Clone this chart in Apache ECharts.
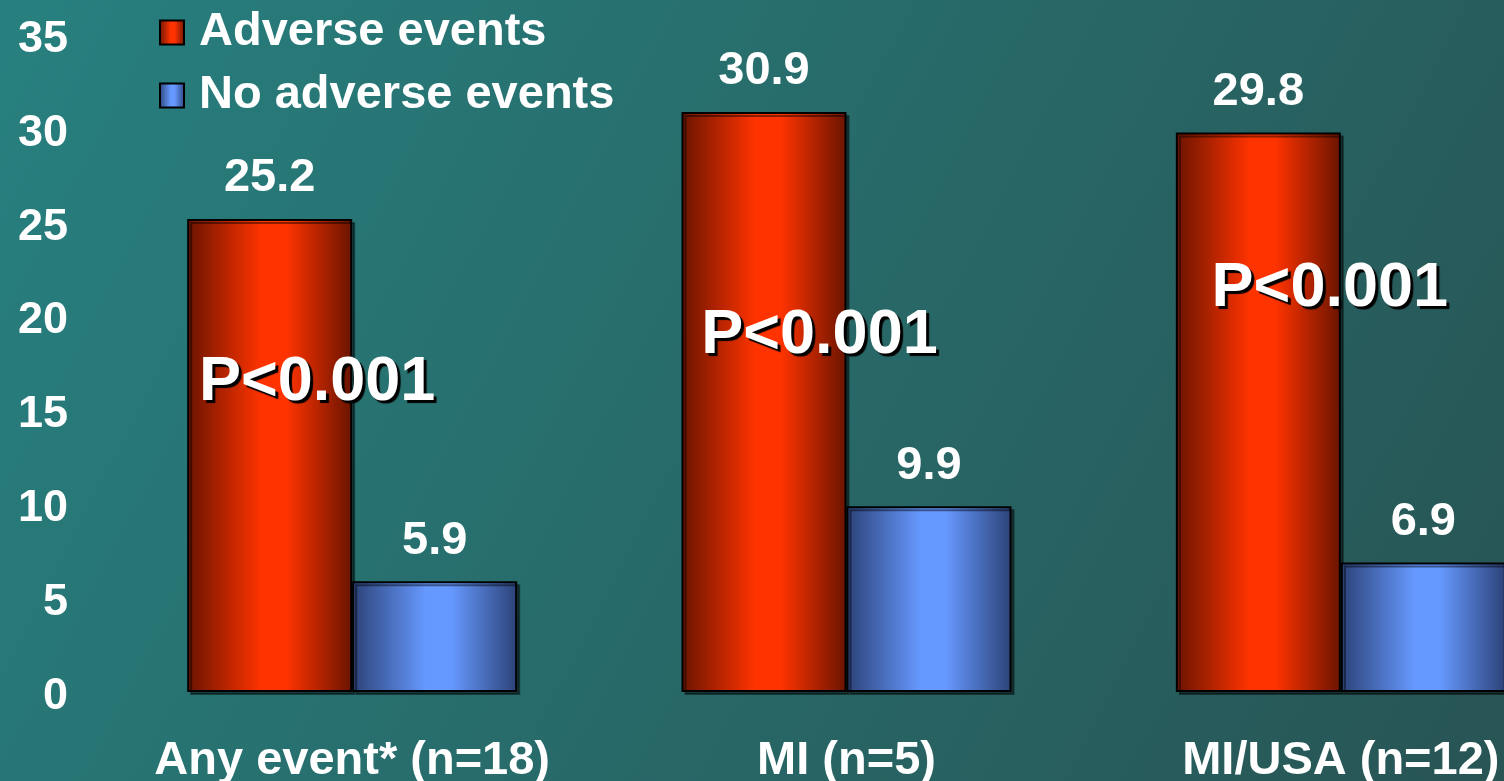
<!DOCTYPE html>
<html>
<head>
<meta charset="utf-8">
<script src="https://cdn.jsdelivr.net/npm/echarts@6/dist/echarts.min.js"></script>
<style>
  html, body { margin: 0; padding: 0; }
  #chart { width: 1504px; height: 781px; }
</style>
</head>
<body>
<div id="chart"></div>
<script>
// Categories and values
const categories = ['Any event* (n=18)', 'MI (n=5)', 'MI/USA (n=12)'];
const adverseEvents = [25.2, 30.9, 29.8];
const noAdverseEvents = [5.9, 9.9, 6.9];
const pValueText = ['P<0.001', 'P<0.001', 'P<0.001'];
// height (in axis units) where each P-value note sits
const pValueLevel = [16.5, 19.0, 21.5];
const yTicks = { min: 0, max: 35, interval: 5 };

const FONT = '"Liberation Sans", Arial, sans-serif';

function barGradient(edge, mid) {
  return new echarts.graphic.LinearGradient(0, 0, 1, 0, [
    { offset: 0, color: edge },
    { offset: 0.45, color: mid },
    { offset: 0.6, color: mid },
    { offset: 1, color: edge }
  ]);
}

const redFill = barGradient('#6a1400', '#ff3300');
const blueFill = barGradient('#2c4278', '#6699ff');

const chart = echarts.init(document.getElementById('chart'));

chart.setOption({
  backgroundColor: new echarts.graphic.LinearGradient(0, 0, 1, 1, [
    { offset: 0, color: '#27807f' },
    { offset: 1, color: '#285454' }
  ]),
  animation: false,
  textStyle: { fontFamily: FONT },
  legend: {
    orient: 'vertical',
    left: 154,
    top: 4,
    itemWidth: 24,
    itemHeight: 24,
    itemGap: 16,
    itemStyle: { borderColor: '#000000', borderWidth: 2 },
    textStyle: {
      color: '#ffffff', fontSize: 47, fontWeight: 'bold', fontFamily: FONT,
      padding: [0, 0, 0, 10]
    },
    data: [
      { name: 'Adverse events', icon: 'rect' },
      { name: 'No adverse events', icon: 'rect' }
    ]
  },
  // the last bar pair runs past the right edge of the canvas
  grid: { left: 105, right: -84, top: 35, bottom: 89, containLabel: false, outerBoundsMode: 'none' },
  xAxis: {
    type: 'category',
    data: categories,
    axisLine: { show: false },
    axisTick: { show: false },
    axisLabel: {
      color: '#ffffff', fontSize: 47, fontWeight: 'bold', fontFamily: FONT,
      margin: 46, interval: 0
    }
  },
  yAxis: {
    type: 'value',
    min: yTicks.min,
    max: yTicks.max,
    interval: yTicks.interval,
    splitLine: { show: false },
    axisLine: { show: false },
    axisTick: { show: false },
    axisLabel: {
      margin: 37,
      formatter: v => '{t|' + v + '}',
      rich: {
        t: {
          color: '#ffffff', fontSize: 45, fontWeight: 'bold', fontFamily: FONT,
          padding: [9, 0, 0, 0]
        }
      }
    }
  },
  series: [
    {
      name: 'Adverse events',
      type: 'bar',
      data: adverseEvents,
      barWidth: 165,
      barGap: '0%',
      itemStyle: {
        color: redFill, borderColor: '#000000', borderWidth: 2,
        shadowColor: 'rgba(0,0,0,0.45)', shadowOffsetX: 3, shadowOffsetY: 3
      },
      label: {
        show: true, position: 'top', distance: 17,
        color: '#ffffff', fontSize: 47, fontWeight: 'bold', fontFamily: FONT,
        formatter: p => p.value.toFixed(1)
      },
      z: 2
    },
    {
      name: 'No adverse events',
      type: 'bar',
      data: noAdverseEvents,
      barWidth: 165,
      barGap: '0%',
      itemStyle: {
        color: blueFill, borderColor: '#000000', borderWidth: 2,
        shadowColor: 'rgba(0,0,0,0.45)', shadowOffsetX: 3, shadowOffsetY: 3
      },
      label: {
        show: true, position: 'top', distance: 17,
        color: '#ffffff', fontSize: 47, fontWeight: 'bold', fontFamily: FONT,
        formatter: p => p.value.toFixed(1)
      },
      z: 2
    },
    {
      // significance notes drawn over the bar pairs
      name: 'p-values',
      type: 'scatter',
      symbolSize: 0,
      silent: true,
      z: 5,
      itemStyle: { opacity: 1 },
      data: categories.map((c, i) => ({ value: [c, pValueLevel[i]], text: pValueText[i] })),
      label: {
        show: true,
        position: 'inside',
        formatter: p => p.data.text,
        color: '#ffffff',
        opacity: 1,
        fontSize: 63,
        fontWeight: 'bold',
        fontFamily: FONT,
        textShadowColor: '#000000',
        textShadowOffsetX: 3,
        textShadowOffsetY: 3,
        textShadowBlur: 1
      },
      labelLayout: function (params) {
        const shifts = [-35, -27, -11];
        return { dx: shifts[params.dataIndex] };
      }
    }
  ]
});
</script>
</body>
</html>
